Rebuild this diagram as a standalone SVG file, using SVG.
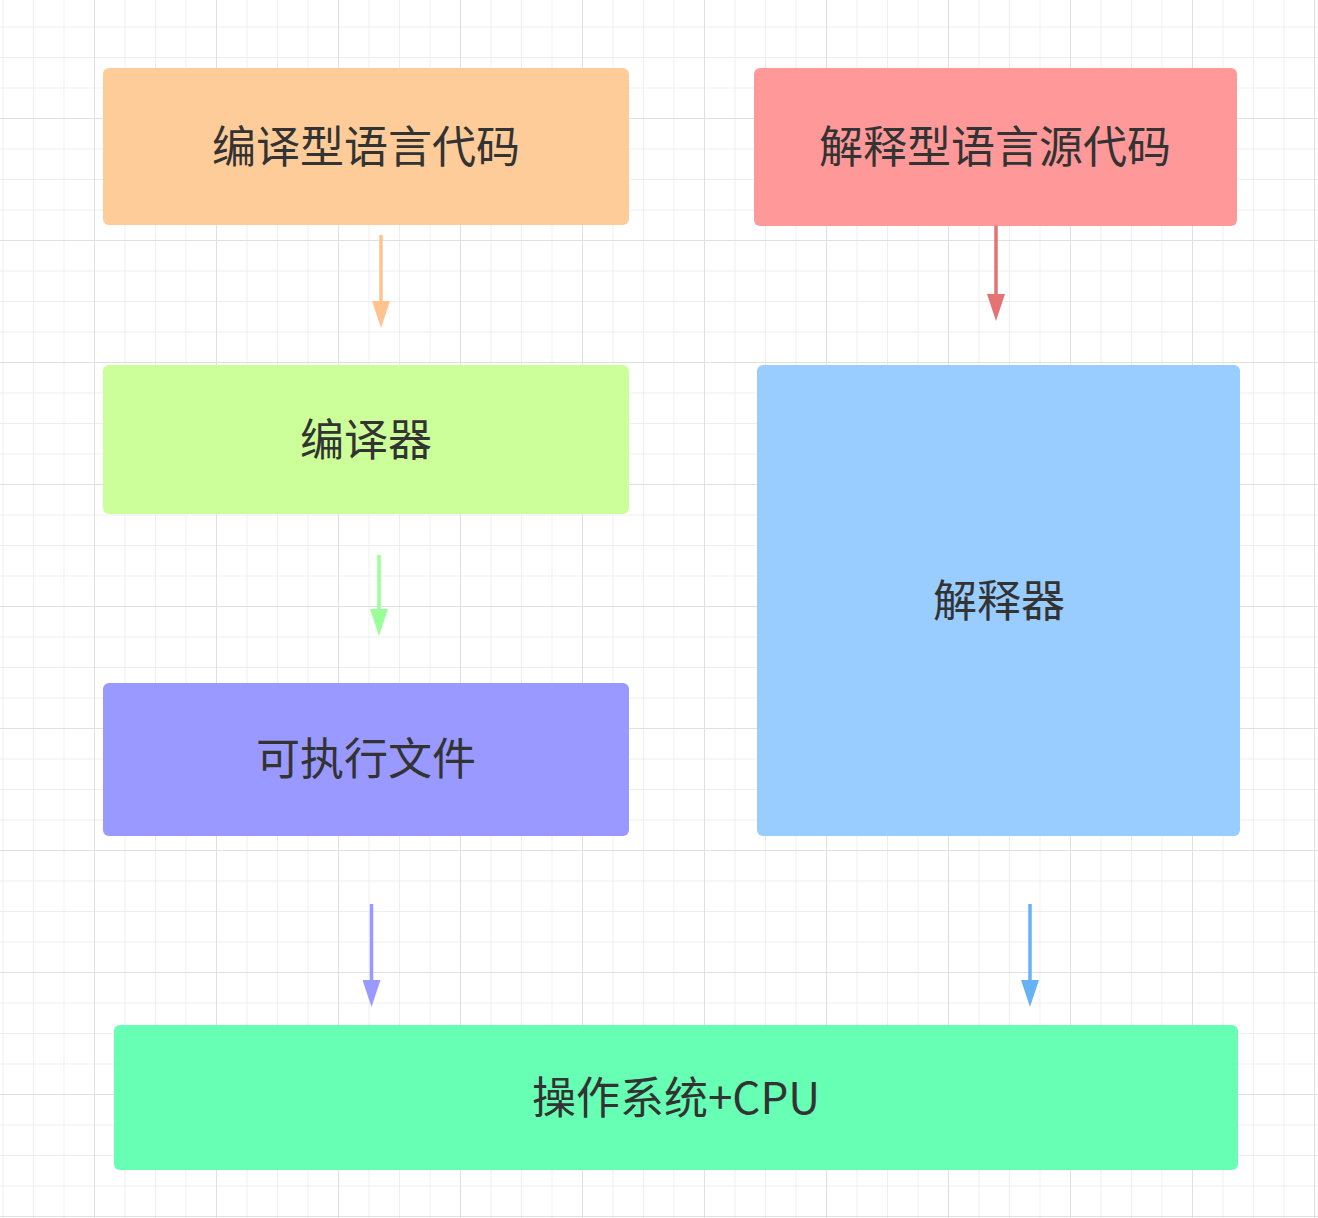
<svg xmlns="http://www.w3.org/2000/svg" width="1318" height="1218" viewBox="0 0 1318 1218">
<defs>
<pattern id="minor" x="-28" y="-4" width="30.5" height="30.5" patternUnits="userSpaceOnUse">
<path d="M0 0 V30.5 M0 0 H30.5" fill="none" stroke="#eeeeee" stroke-width="2"/>
</pattern>
<pattern id="major" x="-28" y="-4" width="122" height="122" patternUnits="userSpaceOnUse">
<path d="M0 0 V122 M0 0 H122" fill="none" stroke="#e0e0e0" stroke-width="2"/>
</pattern>
<marker id="a-orange" viewBox="0 0 18 27" refX="9" refY="0" markerWidth="18" markerHeight="27" markerUnits="userSpaceOnUse"><path d="M0 0 L18 0 L9 27 Z" fill="#FFC390"/></marker>
<marker id="a-red" viewBox="0 0 18 27" refX="9" refY="0" markerWidth="18" markerHeight="27" markerUnits="userSpaceOnUse"><path d="M0 0 L18 0 L9 27 Z" fill="#E57373"/></marker>
<marker id="a-green" viewBox="0 0 18 27" refX="9" refY="0" markerWidth="18" markerHeight="27" markerUnits="userSpaceOnUse"><path d="M0 0 L18 0 L9 27 Z" fill="#99FF99"/></marker>
<marker id="a-purple" viewBox="0 0 18 27" refX="9" refY="0" markerWidth="18" markerHeight="27" markerUnits="userSpaceOnUse"><path d="M0 0 L18 0 L9 27 Z" fill="#9999FF"/></marker>
<marker id="a-blue" viewBox="0 0 18 27" refX="9" refY="0" markerWidth="18" markerHeight="27" markerUnits="userSpaceOnUse"><path d="M0 0 L18 0 L9 27 Z" fill="#66B2F5"/></marker>
</defs>
<style>
.lbl { font-family: "PingFang SC", "Noto Sans CJK SC", "Liberation Sans", sans-serif; font-size: 44px; fill: #333333; text-anchor: middle; dominant-baseline: central; }
.edge { fill: none; stroke-width: 3.5; }
</style>
<rect width="1318" height="1218" fill="#ffffff"/>
<rect width="1318" height="1218" fill="url(#minor)"/>
<rect width="1318" height="1218" fill="url(#major)"/>

<g id="n-compiled-src">
<rect x="103" y="68" width="526" height="157" rx="6" fill="#FECC99"/>
<text class="lbl" x="366" y="144">编译型语言代码</text>
</g>
<g id="n-interp-src">
<rect x="754" y="68" width="483" height="158" rx="6" fill="#FF9999"/>
<text class="lbl" x="995" y="144">解释型语言源代码</text>
</g>
<g id="n-compiler">
<rect x="103" y="365" width="526" height="149" rx="6" fill="#CCFF99"/>
<text class="lbl" x="366" y="437">编译器</text>
</g>
<g id="n-interpreter">
<rect x="757" y="365" width="483" height="471" rx="6" fill="#99CCFF"/>
<text class="lbl" x="999" y="598">解释器</text>
</g>
<g id="n-exe">
<rect x="103" y="683" width="526" height="153" rx="6" fill="#9999FF"/>
<text class="lbl" x="366" y="756">可执行文件</text>
</g>
<g id="n-os">
<rect x="114" y="1025" width="1124" height="145" rx="6" fill="#66FFB3"/>
<text class="lbl" x="676" y="1095">操作系统+CPU</text>
</g>

<g id="connectors">
<line class="edge" x1="381" y1="235" x2="381" y2="301" stroke="#FFC390" marker-end="url(#a-orange)"/>
<line class="edge" x1="996" y1="226" x2="996" y2="294" stroke="#E57373" marker-end="url(#a-red)"/>
<line class="edge" x1="379" y1="555" x2="379" y2="609" stroke="#99FF99" marker-end="url(#a-green)"/>
<line class="edge" x1="371.5" y1="904" x2="371.5" y2="980" stroke="#9999FF" marker-end="url(#a-purple)"/>
<line class="edge" x1="1030" y1="904" x2="1030" y2="980" stroke="#66B2F5" marker-end="url(#a-blue)"/>
</g>
</svg>
